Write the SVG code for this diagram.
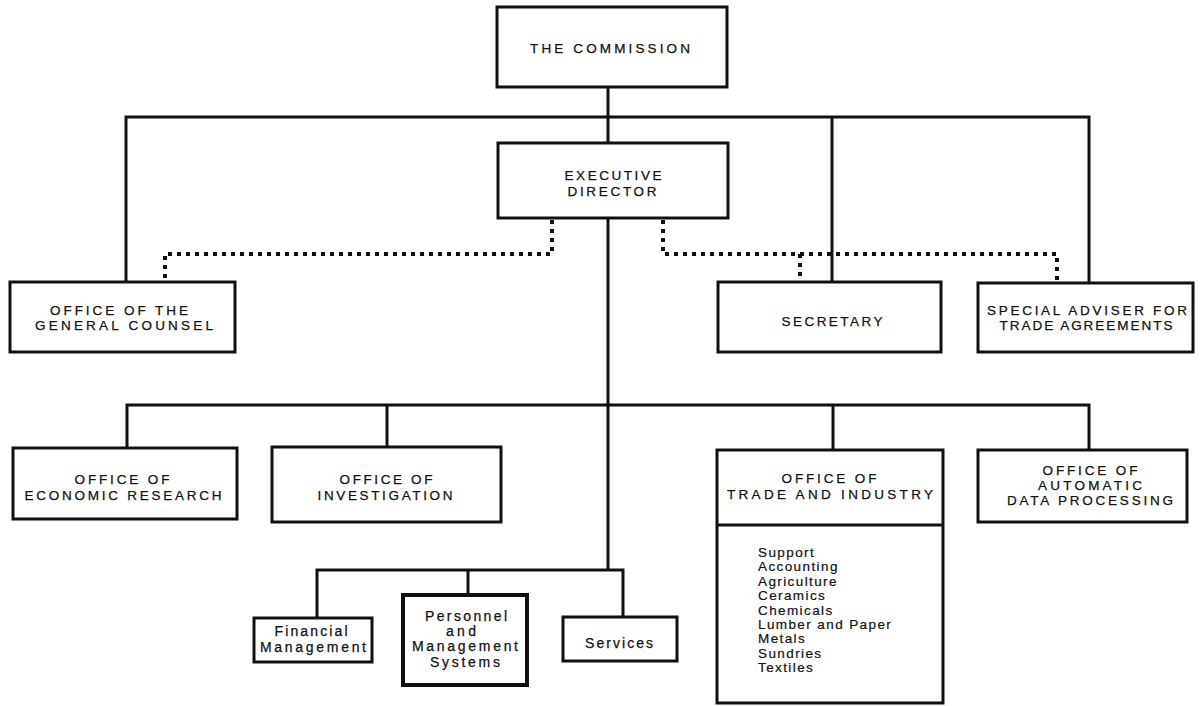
<svg xmlns="http://www.w3.org/2000/svg" width="1204" height="706" viewBox="0 0 1204 706">
<style>
.box{fill:#fff;stroke:#111;stroke-width:3}
.thick{stroke-width:4}
.ln{fill:none;stroke:#111;stroke-width:3}
.dot{fill:none;stroke:#111;stroke-width:4;stroke-dasharray:4 5}
.cap{font-family:"Liberation Sans",Arial,sans-serif;font-size:13.5px;fill:#111;stroke:#111;stroke-width:0.25;text-anchor:middle}
.low{font-family:"Liberation Sans",Arial,sans-serif;font-size:14px;fill:#111;stroke:#111;stroke-width:0.25;text-anchor:middle}
.lst{font-family:"Liberation Sans",Arial,sans-serif;font-size:13.5px;fill:#111;stroke:#111;stroke-width:0.2;letter-spacing:1.4px}
</style>
<rect width="1204" height="706" fill="#fff"/>
<g id="connectors">
<path class="ln" d="M608 87V143"/>
<path class="ln" d="M126 282V117H1089V283"/>
<path class="ln" d="M832 117V282"/>
<path class="ln" d="M608 218V570"/>
<path class="ln" d="M127 448V405H1089V450"/>
<path class="ln" d="M387 405V447"/>
<path class="ln" d="M833 405V450"/>
<path class="ln" d="M317 618V570H623V617"/>
<path class="ln" d="M468 570V595"/>
<path class="dot" d="M552 220V254H165V282"/>
<path class="dot" d="M663 220V254H1057V283"/>
<path class="dot" d="M800 254V282"/>
</g>
<g id="commission">
<rect class="box" x="497" y="7" width="230" height="80"/>
<text class="cap" x="610" y="53" textLength="160" lengthAdjust="spacing">THE COMMISSION</text>
</g>
<g id="executive-director">
<rect class="box" x="498" y="143" width="230" height="75"/>
<text class="cap" x="613" y="180" textLength="97" lengthAdjust="spacing">EXECUTIVE</text>
<text class="cap" x="612" y="196" textLength="89" lengthAdjust="spacing">DIRECTOR</text>
</g>
<g id="general-counsel">
<rect class="box" x="10" y="282" width="225" height="70"/>
<text class="cap" x="119" y="315" textLength="138" lengthAdjust="spacing">OFFICE OF THE</text>
<text class="cap" x="124" y="330" textLength="178" lengthAdjust="spacing">GENERAL COUNSEL</text>
</g>
<g id="secretary">
<rect class="box" x="718" y="282" width="223" height="70"/>
<text class="cap" x="832" y="326" textLength="101" lengthAdjust="spacing">SECRETARY</text>
</g>
<g id="special-adviser">
<rect class="box" x="978" y="283" width="215" height="69"/>
<text class="cap" x="1087" y="315" textLength="200" lengthAdjust="spacing">SPECIAL ADVISER FOR</text>
<text class="cap" x="1086" y="330" textLength="173" lengthAdjust="spacing">TRADE AGREEMENTS</text>
</g>
<g id="economic-research">
<rect class="box" x="13" y="448" width="224" height="71"/>
<text class="cap" x="122" y="484" textLength="95" lengthAdjust="spacing">OFFICE OF</text>
<text class="cap" x="123" y="500" textLength="197" lengthAdjust="spacing">ECONOMIC RESEARCH</text>
</g>
<g id="investigation">
<rect class="box" x="272" y="447" width="229" height="75"/>
<text class="cap" x="386" y="484" textLength="93" lengthAdjust="spacing">OFFICE OF</text>
<text class="cap" x="385" y="500" textLength="135" lengthAdjust="spacing">INVESTIGATION</text>
</g>
<g id="trade-industry">
<rect class="box" x="717" y="450" width="226" height="253"/>
<path class="ln" d="M717 525H943"/>
<text class="cap" x="829" y="483" textLength="95" lengthAdjust="spacing">OFFICE OF</text>
<text class="cap" x="830" y="499" textLength="206" lengthAdjust="spacing">TRADE AND INDUSTRY</text>
<text class="lst" x="758" y="557">Support</text>
<text class="lst" x="758" y="571">Accounting</text>
<text class="lst" x="758" y="586">Agriculture</text>
<text class="lst" x="758" y="600">Ceramics</text>
<text class="lst" x="758" y="615">Chemicals</text>
<text class="lst" x="758" y="629">Lumber and Paper</text>
<text class="lst" x="758" y="643">Metals</text>
<text class="lst" x="758" y="658">Sundries</text>
<text class="lst" x="758" y="672">Textiles</text>
</g>
<g id="adp">
<rect class="box" x="978" y="450" width="209" height="72"/>
<text class="cap" x="1090" y="475" textLength="95" lengthAdjust="spacing">OFFICE OF</text>
<text class="cap" x="1090" y="490" textLength="104" lengthAdjust="spacing">AUTOMATIC</text>
<text class="cap" x="1090" y="505" textLength="166" lengthAdjust="spacing">DATA PROCESSING</text>
</g>
<g id="financial-management">
<rect class="box" x="254" y="618" width="118" height="44"/>
<text class="low" x="311" y="636" textLength="73" lengthAdjust="spacing">Financial</text>
<text class="low" x="313" y="652" textLength="106" lengthAdjust="spacing">Management</text>
</g>
<g id="personnel">
<rect class="box thick" x="403" y="595" width="124" height="90"/>
<text class="low" x="466" y="621" textLength="82" lengthAdjust="spacing">Personnel</text>
<text class="low" x="461" y="636" textLength="30" lengthAdjust="spacing">and</text>
<text class="low" x="465" y="651" textLength="106" lengthAdjust="spacing">Management</text>
<text class="low" x="465" y="667" textLength="70" lengthAdjust="spacing">Systems</text>
</g>
<g id="services">
<rect class="box" x="563" y="617" width="114" height="44"/>
<text class="low" x="619" y="648" textLength="68" lengthAdjust="spacing">Services</text>
</g>
</svg>
